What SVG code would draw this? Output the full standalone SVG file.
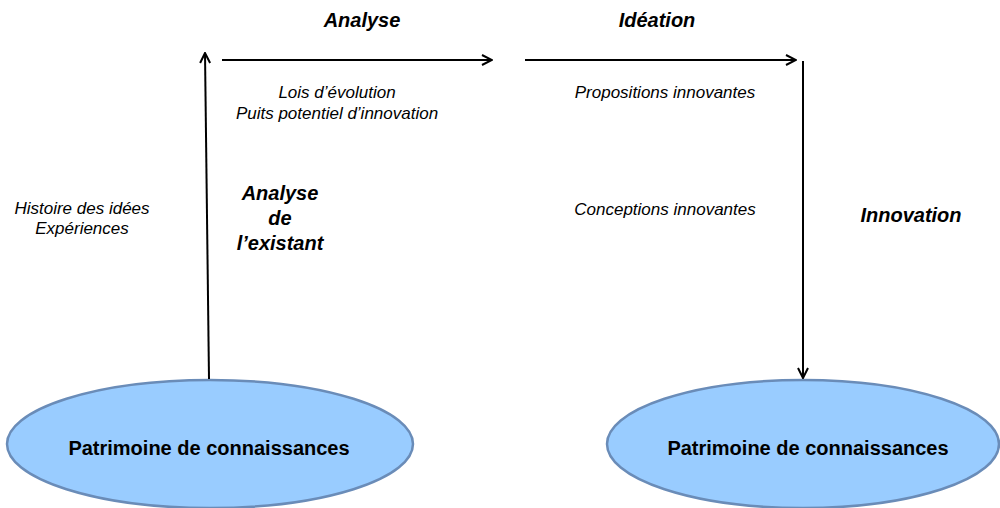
<svg xmlns="http://www.w3.org/2000/svg" width="1000" height="508" viewBox="0 0 1000 508">
<style>
.it{font-family:"Liberation Sans",Arial,sans-serif;font-style:italic;font-size:17px;fill:#000;text-anchor:middle}
.bi{font-family:"Liberation Sans",Arial,sans-serif;font-style:italic;font-weight:bold;font-size:20px;fill:#000;text-anchor:middle}
.nl{font-family:"Liberation Sans",Arial,sans-serif;font-weight:bold;font-size:20px;fill:#000;text-anchor:middle}
.el{fill:#99ccff;stroke:#6a8cb8;stroke-width:2.5}
.cn{stroke:#000;stroke-width:2;fill:none}
</style>
<defs>
<marker id="ah" viewBox="0 0 12 12" refX="11" refY="6" markerWidth="12" markerHeight="12" markerUnits="userSpaceOnUse" orient="auto">
<path d="M1,1 L11,6 L1,11" fill="none" stroke="#000" stroke-width="2"/>
</marker>
</defs>
<rect width="1000" height="508" fill="#fff"/>
<g id="node-left">
<ellipse class="el" cx="210" cy="444" rx="203" ry="64"/>
<text class="nl" x="209" y="455">Patrimoine de connaissances</text>
</g>
<g id="node-right">
<ellipse class="el" cx="803" cy="444" rx="196" ry="64"/>
<text class="nl" x="808" y="455">Patrimoine de connaissances</text>
</g>
<g id="connectors">
<line class="cn" x1="209" y1="379" x2="205" y2="53" marker-end="url(#ah)"/>
<line class="cn" x1="222" y1="60" x2="492" y2="60" marker-end="url(#ah)"/>
<line class="cn" x1="525" y1="60" x2="796" y2="60" marker-end="url(#ah)"/>
<line class="cn" x1="803" y1="61" x2="803" y2="378" marker-end="url(#ah)"/>
</g>
<g id="labels">
<text class="bi" x="362" y="27">Analyse</text>
<text class="bi" x="657" y="27">Idéation</text>
<text class="it" x="337" y="98">Lois d’évolution</text>
<text class="it" x="337" y="119">Puits potentiel d’innovation</text>
<text class="it" x="665" y="98">Propositions innovantes</text>
<text class="it" x="82" y="214">Histoire des idées</text>
<text class="it" x="82" y="234">Expériences</text>
<text class="bi" x="280" y="200">Analyse</text>
<text class="bi" x="280" y="225">de</text>
<text class="bi" x="280" y="250">l’existant</text>
<text class="it" x="665" y="215">Conceptions innovantes</text>
<text class="bi" x="911" y="222">Innovation</text>
</g>
</svg>
